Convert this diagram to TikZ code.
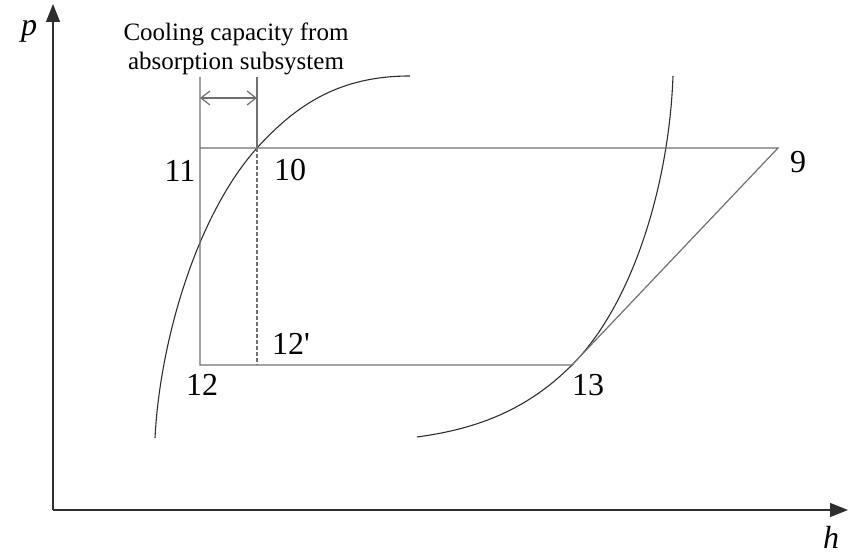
\documentclass[tikz,border=0pt]{standalone}
\usepackage{fontspec}
\setmainfont{Liberation Serif}
\usetikzlibrary{arrows.meta,positioning}
\definecolor{Line}{HTML}{707070}
\definecolor{Curve}{HTML}{2E2E2E}

\begin{document}
\begin{tikzpicture}[x=0.5pt,y=-0.5pt,
    ln/.style={draw=Line,line width=0.6pt},
    crv/.style={draw=Curve,line width=0.55pt},
    ax/.style={draw=Curve,line width=0.7pt,-{Triangle[length=9pt,width=7pt]}},
    dimarr/.style={draw=Line,line width=0.6pt,{Straight Barb[length=4.5pt,width=7pt]}-{Straight Barb[length=4.5pt,width=7pt]}},
    num/.style={inner sep=0pt,font=\fontsize{16}{19}\selectfont},
    capt/.style={inner sep=0pt,align=center,font=\fontsize{12.5}{14.5}\selectfont}]
  \useasboundingbox (0,0) rectangle (848,555);
  % axes
  \coordinate (o) at (53,510);
  \coordinate (ptop) at (53,4);
  \coordinate (hend) at (848,510);
  \draw[ax] (o) -- (ptop);
  \draw[ax] (o) -- (hend);
  \node[num] (plab) at (29,31) {\textit{p}};
  \node[num] (hlab) at (831,537) {\textit{h}};
  % state points
  \coordinate (s11) at (200,148);
  \coordinate (s10) at (257,148);
  \coordinate (s9) at (778,148);
  \coordinate (s12) at (200,365);
  \coordinate (s12p) at (257,365);
  \coordinate (s13) at (572,365);
  \coordinate (t11) at (200,77);
  \coordinate (t10) at (257,77);
  \coordinate (a11) at (200,98);
  \coordinate (a10) at (257,98);
  % saturation curves
  \coordinate (lbot) at (155,438);
  \coordinate (ltop) at (410,76);
  \coordinate (rbot) at (417,437);
  \coordinate (rtop) at (673,76);
  \draw[crv] (lbot) .. controls (160,340) and (197,215) .. (s10)
                     .. controls (297,104) and (340,76) .. (ltop);
  \draw[crv] (rbot) .. controls (477,429) and (527,410) .. (s13)
                     .. controls (632,305) and (669,186) .. (rtop);
  % cycle
  \draw[ln] (t11) -- (s12) -- (s13) -- (s9) -- (s11);
  \draw[ln] (t10) -- (s10);
  \draw[ln,dash pattern=on 2pt off 1pt] (s10) -- (s12p);
  \draw[dimarr] (a11) -- (a10);
  \node[capt,anchor=north] (cap) at (236,23) {Cooling capacity from\\absorption subsystem};
  % labels
  \node[num] (l11) at (180,171) {11};
  \node[num] (l10) at (290,170) {10};
  \node[num] (l9) at (798,162) {9};
  \node[num] (l12p) at (291,344) {12\textquotesingle};
  \node[num] (l12) at (202,385) {12};
  \node[num] (l13) at (588,385) {13};
\end{tikzpicture}
\end{document}
